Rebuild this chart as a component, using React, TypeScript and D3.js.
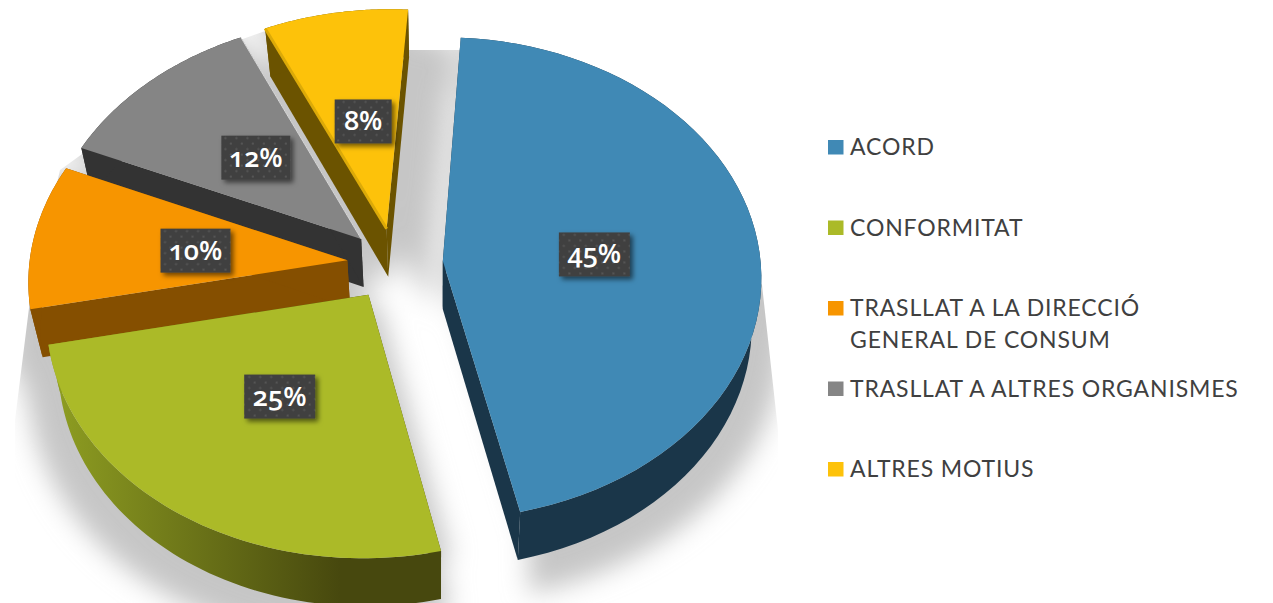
import { useEffect, useRef } from 'react'
import * as d3 from 'd3'

const CATEGORIES = ['ACORD', 'CONFORMITAT', 'TRASLLAT', 'ORGANISMES', 'MOTIUS']
const LEGEND_LINES = [
  ['ACORD'],
  ['CONFORMITAT'],
  ['TRASLLAT A LA DIRECCIÓ', 'GENERAL DE CONSUM'],
  ['TRASLLAT A ALTRES ORGANISMES'],
  ['ALTRES MOTIUS'],
]
// the labels show them rounded
const VALUES = [45.4, 25.4, 9.7, 11.6, 7.9]
const COLORS = ['#4089b5', '#abba28', '#f79500', '#858585', '#fdc20a']
const WALL_COLORS = ['#1a3649', 'url(#greenWall)', '#854f00', '#333333', '#6b5300']

const WIDTH = 1273
const HEIGHT = 603
const CENTER_X = 395
const CENTER_Y = 264
const RADIUS = 318
const EXPLODE = 48
const TILT = 0.755
const PERSPECTIVE = 0.0714
const VANISH_X = 440
const DEPTH = 48
const START_ANGLE = (3.5 * Math.PI) / 180
const LABEL_WIDTHS = [71, 71, 70, 69, 57]
const LABEL_NUDGE = [[0, 3], [-1, 0], [-1, 2], [-1, -4], [2, 0]]

type Point = [number, number]

// flat pie coordinates -> screen, with a bit of perspective
function project(x: number, v: number, lower = false): Point {
  const s = 1 / (1 - (PERSPECTIVE * v) / RADIUS)
  const sx = VANISH_X + (x - VANISH_X) * s
  const sy = CENTER_Y + v * s * TILT
  if (!lower) return [sx, sy]
  return [sx + (VANISH_X - sx) * 0.03, sy + DEPTH]
}

function App() {
  const svgRef = useRef<SVGSVGElement>(null)

  useEffect(() => {
    const svg = d3.select(svgRef.current)
    svg.selectAll('*').remove()

    const defs = svg.append('defs')
    defs.append('filter')
      .attr('id', 'blur')
      .attr('x', '-20%').attr('y', '-20%').attr('width', '140%').attr('height', '140%')
      .append('feGaussianBlur')
      .attr('stdDeviation', 13)
    const labelShadow = defs.append('filter')
      .attr('id', 'labelShadow')
      .attr('x', '-20%').attr('y', '-20%').attr('width', '150%').attr('height', '150%')
    labelShadow.append('feDropShadow')
      .attr('dx', 3).attr('dy', 3).attr('stdDeviation', 2.5)
      .attr('flood-color', '#000').attr('flood-opacity', 0.55)

    const gradient = defs.append('linearGradient')
      .attr('id', 'greenWall')
      .attr('gradientUnits', 'userSpaceOnUse')
      .attr('x1', 50).attr('x2', 340).attr('y1', 0).attr('y2', 0)
    gradient.append('stop').attr('offset', 0).attr('stop-color', '#8f9f22')
    gradient.append('stop').attr('offset', 1).attr('stop-color', '#47480e')

    const pattern = defs.append('pattern')
      .attr('id', 'dots')
      .attr('patternUnits', 'userSpaceOnUse')
      .attr('width', 11).attr('height', 11)
    pattern.append('rect').attr('width', 11).attr('height', 11).attr('fill', '#404040')
    pattern.append('circle').attr('cx', 2.5).attr('cy', 2.5).attr('r', 1.1).attr('fill', '#5a5a5a')
    pattern.append('circle').attr('cx', 8).attr('cy', 8).attr('r', 1.1).attr('fill', '#5a5a5a')

    defs.append('clipPath')
      .attr('id', 'shadowClip')
      .append('polygon')
      .attr('points', '410,50 460,50 650,100 762,285 778,430 778,603 15,603 15,420 30,300 60,170 240,40 268,30')

    const arcs = d3.pie<number>()
      .sort(null)
      .startAngle(START_ANGLE)
      .endAngle(START_ANGLE + 2 * Math.PI)(VALUES)

    const line = d3.line()

    const slices = arcs.map((a, i) => {
      const mid = (a.startAngle + a.endAngle) / 2
      const ox = CENTER_X + EXPLODE * Math.sin(mid)
      const ov = -EXPLODE * Math.cos(mid)
      const steps = d3.range(0, 61).map((k) => a.startAngle + ((a.endAngle - a.startAngle) * k) / 60)
      const rimPlane = steps.map((t): Point => [ox + RADIUS * Math.sin(t), ov - RADIUS * Math.cos(t)])
      const apex = project(ox, ov)
      const apexLow = project(ox, ov, true)
      const rim = rimPlane.map((p) => project(p[0], p[1]))
      const rimLow = rimPlane.map((p) => project(p[0], p[1], true))
      const label = project(ox + RADIUS * 0.48 * Math.sin(mid), ov - RADIUS * 0.48 * Math.cos(mid))
      return { i, apex, apexLow, rim, rimLow, label }
    })

    // soft grey shadow under the whole pie, a wide copy and a tight one so the gaps stay grey
    const shadow = svg.append('g')
      .attr('clip-path', 'url(#shadowClip)')
      .append('g')
      .attr('filter', 'url(#blur)')
    const shadowCopies = [
      'translate(400 310) scale(1.09) translate(-400 -300)',
      'translate(10 8)',
    ]
    const shadowShape = (parent: any, s: (typeof slices)[number]) => {
      parent.append('path')
        .attr('d', line([s.apex, ...s.rim, ...[...s.rimLow].reverse(), s.apexLow]) + 'Z')
        .attr('fill', '#c6c6c6')
      parent.append('path')
        .attr('d', line([s.apex, ...s.rim]) + 'Z')
        .attr('fill', '#c6c6c6')
    }
    shadowCopies.forEach((transform) => {
      const copy = shadow.append('g').attr('transform', transform)
      slices.forEach((s) => shadowShape(copy, s))
    })
    // the gap right of the yellow slice is grey too
    shadowShape(shadow.append('g').attr('transform', 'translate(45 30)'), slices[4])

    // back to front: yellow, gray, orange, green, blue
    const order = [4, 3, 2, 1, 0]
    const pie = svg.append('g')
    order.forEach((idx) => {
      const s = slices[idx]
      const g = pie.append('g')
      const wall = WALL_COLORS[idx]
      const first = s.rim[0]
      const last = s.rim[s.rim.length - 1]
      g.append('path')
        .attr('d', line([s.apex, first, s.rimLow[0], s.apexLow]) + 'Z')
        .attr('fill', wall)
      g.append('path')
        .attr('d', line([s.apex, last, s.rimLow[s.rimLow.length - 1], s.apexLow]) + 'Z')
        .attr('fill', wall)
      g.append('path')
        .attr('d', line([...s.rim, ...[...s.rimLow].reverse()]) + 'Z')
        .attr('fill', wall)
      g.append('path')
        .attr('d', line([s.apex, ...s.rim]) + 'Z')
        .attr('fill', COLORS[idx])
      if (idx === 3) {
        // thin light edge where gray meets the yellow wall
        g.append('path')
          .attr('d', line([last, s.apex]))
          .attr('stroke', '#d8d8d8')
          .attr('stroke-width', 1)
          .attr('fill', 'none')
      }
      if (idx === 4) {
        g.append('path')
          .attr('d', line([first, s.apex]))
          .attr('stroke', '#dcaa08')
          .attr('stroke-width', 3)
          .attr('fill', 'none')
      }
    })

    // percent labels
    const labels = svg.append('g')
    slices.forEach((s, i) => {
      const w = LABEL_WIDTHS[i]
      const [nx, ny] = LABEL_NUDGE[i]
      const g = labels.append('g').attr('transform', `translate(${s.label[0] + nx},${s.label[1] + ny})`)
      g.append('rect')
        .attr('x', -w / 2).attr('y', -22)
        .attr('width', w).attr('height', 44)
        .attr('fill', 'url(#dots)')
        .attr('filter', 'url(#labelShadow)')
      g.append('text')
        .attr('y', 9)
        .attr('text-anchor', 'middle')
        .attr('fill', '#fff')
        .attr('font-family', '"Open Sans", sans-serif')
        .attr('font-weight', 600)
        .attr('font-size', 27)
        .style('font-feature-settings', '"onum" 1')
        .style('font-variant-numeric', 'oldstyle-nums')
        .text(`${Math.round(VALUES[i])}%`)
    })

    // legend
    const rowY = d3.scalePoint<string>().domain(CATEGORIES).range([147, 469])
    const legend = svg.append('g')
    CATEGORIES.forEach((cat, i) => {
      const y = rowY(cat) ?? 0
      legend.append('rect')
        .attr('x', 828).attr('y', y - 7)
        .attr('width', 15.5).attr('height', 14.5)
        .attr('fill', COLORS[i])
      LEGEND_LINES[i].forEach((txt, k) => {
        legend.append('text')
          .attr('x', 850)
          .attr('y', y + 8 + k * 32)
          .attr('fill', '#404040')
          .attr('font-family', 'Lato, sans-serif')
          .attr('font-size', 23)
          .attr('letter-spacing', 0.85)
          .text(txt)
      })
    })
  }, [])

  return (
    <svg
      ref={svgRef}
      width={WIDTH}
      height={HEIGHT}
      style={{ position: 'absolute', left: 0, top: 0, display: 'block' }}
    />
  )
}

export default App
